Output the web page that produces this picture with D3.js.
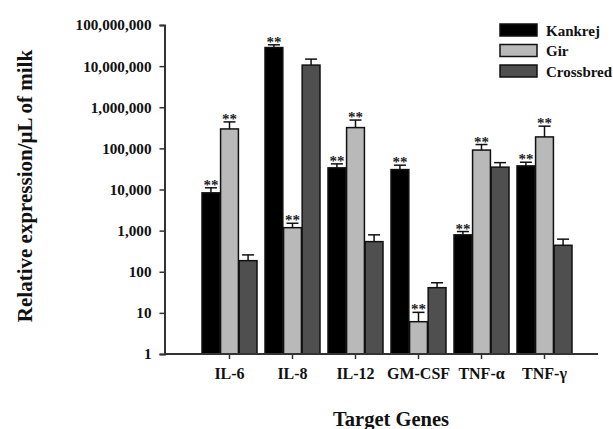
<!DOCTYPE html>
<html>
<head>
<meta charset="utf-8">
<script src="https://cdn.jsdelivr.net/npm/d3@7"></script>
<style>
    body { margin: 0; background: #fff; }
    svg text { font-family: "Liberation Serif", "Times New Roman", serif; font-weight: bold; }
</style>
</head>
<body>
<svg id="chart" width="613" height="429"></svg>
<script>
// data (mean and error amount per breed)
const genes = ['IL-6', 'IL-8', 'IL-12', 'GM-CSF', 'TNF-\u03b1', 'TNF-\u03b3'];
const breeds = ['Kankrej', 'Gir', 'Crossbred'];

const kankrej = [8300, 28300000, 33600, 30500, 790, 37500];
const kankrejErr = [2700, 4700000, 8400, 8500, 160, 8500];
const gir = [297000, 1180, 320000, 6.1, 91000, 190000];
const girErr = [143000, 330, 168000, 4.2, 33000, 157000];
const crossbred = [186, 10600000, 540, 41, 35000, 440];
const crossbredErr = [71, 4200000, 250, 13, 10000, 180];

const kankrejSig = [true, true, true, true, true, true];
const girSig = [true, true, true, true, true, true];
const crossbredSig = [false, false, false, false, false, false];

const yTicks = [1, 10, 100, 1000, 10000, 100000, 1000000, 10000000, 100000000];

const colors = { 'Kankrej': '#000000', 'Gir': '#b9b9b9', 'Crossbred': '#4f4f4f' };

const svg = d3.select('#chart');

const axisX = 164.5; // y axis position
const baseY = 354;   // x axis position

const x = d3.scaleBand().domain(genes).range([198, 576]).paddingInner(0.127).paddingOuter(0.0635);
const xInner = d3.scaleBand().domain(breeds).range([0, x.bandwidth()]).paddingInner(0.04);
const y = d3.scaleLog().domain([1, 1e8]).range([baseY, 25]);

// build rows
const series = {
    'Kankrej': { v: kankrej, e: kankrejErr, s: kankrejSig },
    'Gir': { v: gir, e: girErr, s: girSig },
    'Crossbred': { v: crossbred, e: crossbredErr, s: crossbredSig }
};
const rows = [];
genes.forEach(function(g, i) {
    breeds.forEach(function(b) {
        rows.push({ gene: g, breed: b, value: series[b].v[i], err: series[b].e[i], sig: series[b].s[i] });
    });
});

// y axis
const yAxis = svg.append('g')
    .attr('transform', 'translate(' + axisX + ',0)')
    .call(d3.axisLeft(y).tickValues(yTicks).tickFormat(d3.format(',')).tickSize(5).tickPadding(8));
yAxis.select('.domain').attr('stroke', '#333').attr('stroke-width', 2);
yAxis.selectAll('.tick line').attr('stroke', '#333').attr('stroke-width', 1.5);
yAxis.selectAll('.tick text').attr('font-size', 15.2).attr('fill', '#111');

// bars
svg.append('g').selectAll('rect')
    .data(rows)
    .enter()
        .append('rect')
            .attr('x', function(d) { return x(d.gene) + xInner(d.breed); })
            .attr('y', function(d) { return y(d.value); })
            .attr('width', xInner.bandwidth())
            .attr('height', function(d) { return baseY - y(d.value); })
            .attr('fill', function(d) { return colors[d.breed]; })
            .attr('stroke', '#111')
            .attr('stroke-width', 1.5);

// error bars
const eb = svg.append('g').attr('stroke', '#111').attr('stroke-width', 1.5);
rows.forEach(function(d) {
    const cx = x(d.gene) + xInner(d.breed) + xInner.bandwidth() / 2;
    const top = y(d.value + d.err);
    eb.append('line').attr('x1', cx).attr('x2', cx).attr('y1', y(d.value)).attr('y2', top);
    eb.append('line').attr('x1', cx - 6).attr('x2', cx + 6).attr('y1', top).attr('y2', top);
});

// significance stars
svg.append('g').selectAll('text')
    .data(rows.filter(function(d) { return d.sig; }))
    .enter()
        .append('text')
            .attr('x', function(d) { return x(d.gene) + xInner(d.breed) + xInner.bandwidth() / 2; })
            .attr('y', function(d) { return y(d.value + d.err) + 2; })
            .attr('text-anchor', 'middle')
            .attr('font-size', 15)
            .attr('fill', '#222')
            .text('**');

// x axis
const xAxis = svg.append('g')
    .attr('transform', 'translate(0,' + baseY + ')')
    .call(d3.axisBottom(x).tickSize(5).tickPadding(9).tickSizeOuter(0));
xAxis.select('.domain').attr('d', 'M' + axisX + ',0H598').attr('stroke', '#333').attr('stroke-width', 2);
xAxis.selectAll('.tick line').attr('stroke', '#333').attr('stroke-width', 1.5);
xAxis.selectAll('.tick text').attr('font-size', 16).attr('fill', '#111');

// axis titles
svg.append('text')
    .attr('transform', 'translate(32,186) rotate(-90)')
    .attr('text-anchor', 'middle')
    .attr('font-size', 21)
    .attr('fill', '#111')
    .text('Relative expression/\u03bcL of milk');

svg.append('text')
    .attr('x', 391)
    .attr('y', 426)
    .attr('text-anchor', 'middle')
    .attr('font-size', 20.5)
    .attr('fill', '#111')
    .text('Target Genes');

// legend
const legend = svg.append('g').attr('transform', 'translate(500,24)');
breeds.forEach(function(b, i) {
    const g = legend.append('g').attr('transform', 'translate(0,' + i * 20.5 + ')');
    g.append('rect')
        .attr('width', 37).attr('height', 12)
        .attr('fill', colors[b]).attr('stroke', '#111').attr('stroke-width', 1.5);
    g.append('text')
        .attr('x', 46).attr('y', 11.5)
        .attr('font-size', 15)
        .attr('fill', '#111')
        .text(b);
});
</script>
</body>
</html>
